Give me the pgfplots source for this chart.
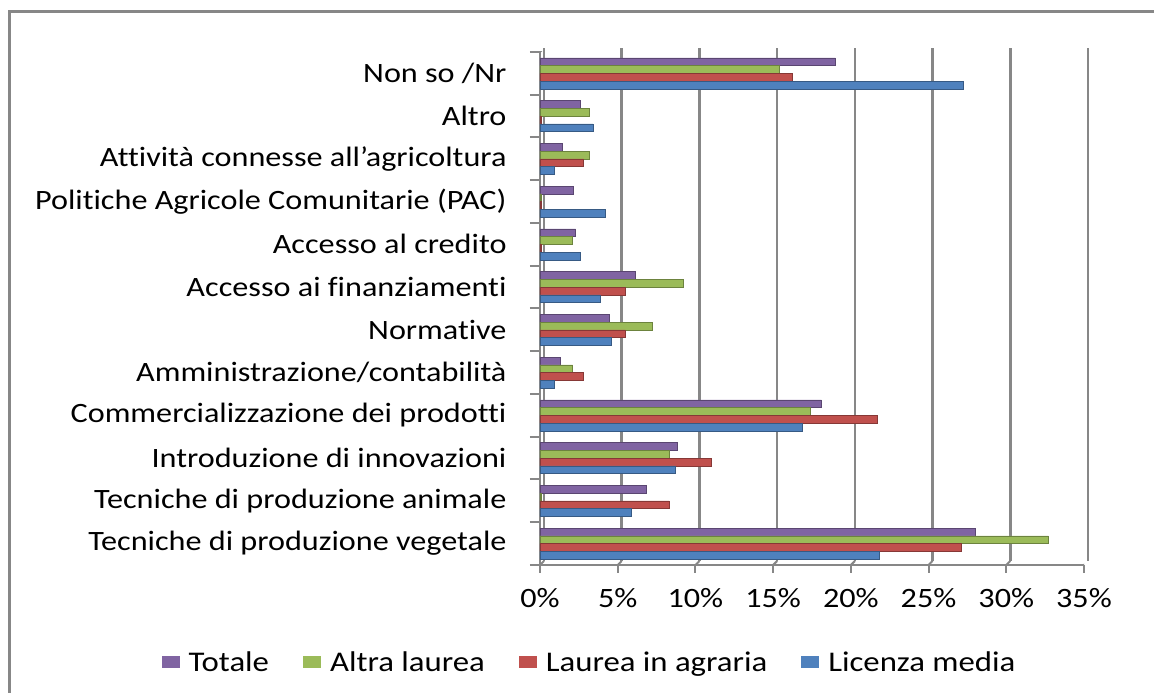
\documentclass[border=0pt]{standalone}
\usepackage{pgfplots}
\pgfplotsset{compat=1.18}
\usepackage{fontspec}
\setmainfont{Carlito}[FakeStretch=1.15, Ligatures=NoCommon]
\definecolor{cTot}{HTML}{8064A2}
\definecolor{cAlt}{HTML}{9BBB59}
\definecolor{cAgr}{HTML}{C0504D}
\definecolor{cLic}{HTML}{4F81BD}
\definecolor{cGrid}{HTML}{878787}
\begin{document}
\begin{tikzpicture}
\useasboundingbox (0pt,0pt) rectangle (1154pt,693pt);
\fill[white] (0pt,0pt) rectangle (1154pt,693pt);
\draw[cGrid, line width=3pt] (9.5pt,-5pt) -- (9.5pt,681.5pt) -- (1160pt,681.5pt);
\begin{axis}[
  at={(540pt,149.375pt)}, anchor=origin,
  scale only axis, width=544pt, height=513pt,
  xbar, bar width=0.18,
  xmin=0, xmax=35, ymin=-0.5, ymax=11.5,
  axis x line*=bottom, axis y line*=left,
  axis line style={cGrid, line width=2pt},
  tick align=outside,
  xtick={0,5,...,35},
  xticklabels={0\%,5\%,10\%,15\%,20\%,25\%,30\%,35\%},
  major tick length=8pt,
  major x tick style={cGrid, line width=2pt},
  ytick={0,...,11},
  major y tick style={draw=none},
  minor ytick={-0.5,0.5,...,11.5},
  minor tick length=10pt,
  minor y tick style={cGrid, line width=2pt},
  yticklabels={Tecniche di produzione vegetale,Tecniche di produzione animale,Introduzione di innovazioni,Commercializzazione dei prodotti,Amministrazione/contabilità,Normative,Accesso ai finanziamenti,Accesso al credito,Politiche Agricole Comunitarie (PAC),Attività connesse all’agricoltura,Altro,Non so /Nr},
  xmajorgrids,
  major x grid style={cGrid, line width=2.5pt, xshift=4pt, yshift=4pt},
  tick label style={font=\fontsize{28}{30}\selectfont, text=black},
  yticklabel style={xshift=-22pt},
  xticklabel style={yshift=-12pt},
  legend columns=4,
  legend style={draw=none, fill=none, at={(0.092,-0.190)}, anchor=center,
    font=\fontsize{28.5}{30}\selectfont,
    nodes={inner xsep=3pt},
    /tikz/every even column/.append style={column sep=31pt}},
  legend image code/.code={\fill[#1, draw=none] (0pt,-6pt) rectangle (18pt,6pt); \path[draw=none, fill=none] (0pt,0pt) -- (24pt,0pt);},
]
\addplot[fill=cTot, draw=cTot!70!black, line width=0.5pt, bar shift=0.27] coordinates {
(28.0,0) (6.85,1) (8.8,2) (18.1,3) (1.3,4) (4.45,5) (6.1,6) (2.3,7) (2.15,8) (1.4,9) (2.6,10) (19.0,11)};
\addplot[fill=cAlt, draw=cAlt!70!black, line width=0.5pt, bar shift=0.09] coordinates {
(32.7,0) (0.05,1) (8.3,2) (17.4,3) (2.1,4) (7.25,5) (9.2,6) (2.1,7) (0.1,8) (3.2,9) (3.2,10) (15.4,11)};
\addplot[fill=cAgr, draw=cAgr!70!black, line width=0.5pt, bar shift=-0.09] coordinates {
(27.1,0) (8.3,1) (11.0,2) (21.7,3) (2.8,4) (5.5,5) (5.5,6) (0.05,7) (0.1,8) (2.8,9) (0.1,10) (16.2,11)};
\addplot[fill=cLic, draw=cLic!70!black, line width=0.5pt, bar shift=-0.27] coordinates {
(21.85,0) (5.9,1) (8.7,2) (16.9,3) (0.9,4) (4.6,5) (3.85,6) (2.6,7) (4.2,8) (0.9,9) (3.4,10) (27.25,11)};
\addlegendentry{Totale}
\addlegendentry{Altra laurea}
\addlegendentry{Laurea in agraria}
\addlegendentry{Licenza media}
\pgfplotsinvokeforeach{0,5,...,35}{
  \draw[cGrid, line width=2pt] (axis cs:#1,-0.5) -- ([xshift=4pt,yshift=4pt]axis cs:#1,-0.5);
}
\draw[cGrid, line width=2pt] (axis cs:0,11.5) -- ([xshift=4pt,yshift=4pt]axis cs:0,11.5);
\end{axis}
\end{tikzpicture}
\end{document}
